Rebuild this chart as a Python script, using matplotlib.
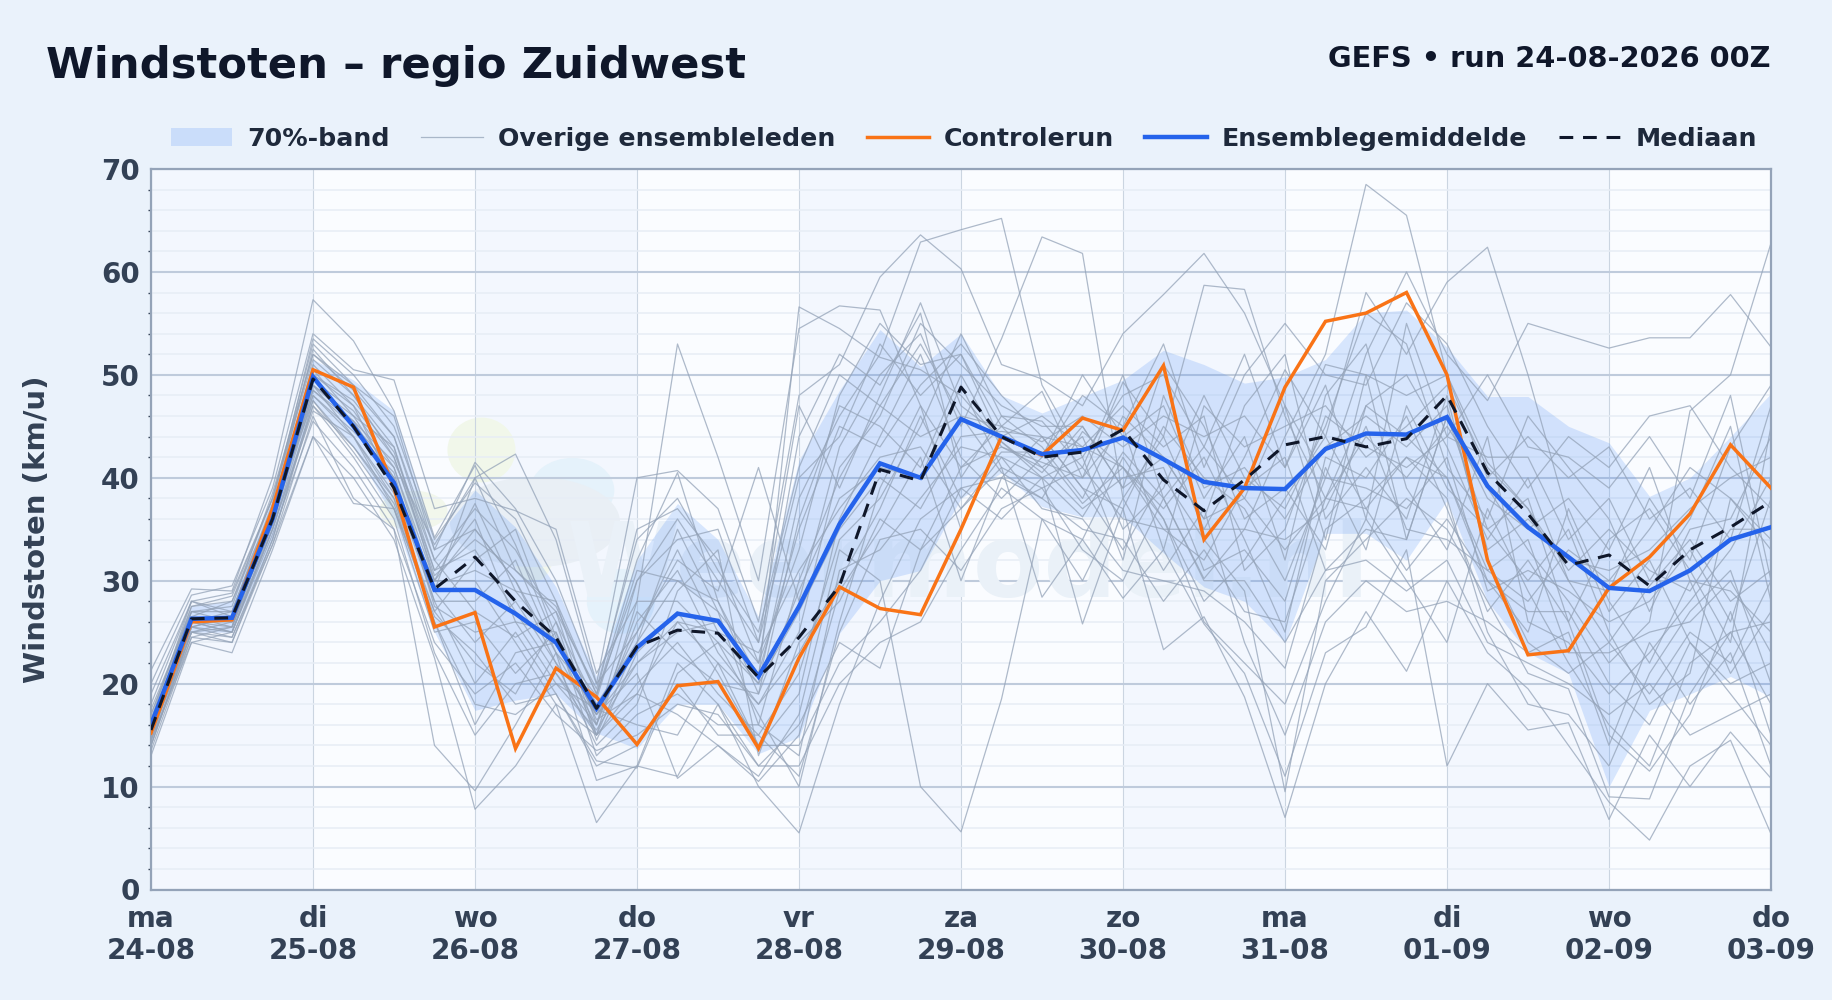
import matplotlib
matplotlib.use('Agg')
import matplotlib.pyplot as plt
import numpy as np
from matplotlib.patches import Ellipse

# tijdstappen van 6 uur, 10 dagen
day_names = ['ma', 'di', 'wo', 'do', 'vr', 'za', 'zo', 'ma', 'di', 'wo', 'do']
day_dates = ['24-08', '25-08', '26-08', '27-08', '28-08', '29-08', '30-08', '31-08', '01-09', '02-09', '03-09']

control = [15.2, 26.0, 26.2, 37.0, 50.5, 48.8, 39.0, 25.5, 26.9, 13.7, 21.5, 18.7, 14.1, 19.8, 20.2, 13.7, 22.5, 29.4, 27.3, 26.7, 35.0, 44.0, 42.2, 45.8, 44.6, 50.9, 34.0, 39.0, 48.8, 55.2, 56.0, 58.0, 50.0, 32.0, 22.8, 23.2, 29.3, 32.3, 36.5, 43.2, 39.0]
mean = [16.0, 26.3, 26.4, 36.0, 49.8, 45.0, 39.5, 29.1, 29.1, 26.8, 24.0, 17.6, 23.5, 26.8, 26.1, 20.7, 27.5, 35.5, 41.4, 40.0, 45.7, 44.0, 42.3, 42.7, 43.9, 41.8, 39.6, 39.0, 38.9, 42.8, 44.3, 44.2, 45.9, 39.2, 35.2, 32.3, 29.3, 29.0, 31.0, 34.0, 35.2]
median = [15.5, 26.3, 26.4, 36.0, 49.6, 45.0, 39.0, 29.2, 32.3, 28.0, 24.5, 17.6, 23.6, 25.2, 24.9, 20.6, 24.5, 29.5, 40.8, 39.7, 48.8, 44.0, 42.0, 42.5, 44.7, 39.8, 36.8, 39.8, 43.2, 44.0, 43.0, 43.8, 48.0, 40.5, 36.5, 31.5, 32.5, 29.5, 33.0, 35.2, 37.7]

band_low = [14.5, 25.0, 25.0, 34.0, 47.5, 43.0, 36.0, 25.0, 17.4, 18.4, 19.0, 15.2, 13.7, 18.0, 18.0, 13.2, 14.8, 24.9, 30.0, 31.0, 38.0, 40.5, 37.2, 36.2, 36.2, 32.7, 29.4, 28.0, 24.0, 34.6, 34.6, 32.0, 37.8, 28.0, 23.0, 21.0, 10.0, 17.4, 19.0, 20.7, 18.7]
band_high = [17.0, 27.5, 28.0, 38.0, 51.5, 49.5, 46.5, 34.0, 38.8, 35.2, 29.4, 20.7, 32.0, 37.5, 34.0, 26.5, 41.7, 48.5, 54.4, 50.8, 54.0, 48.0, 46.3, 47.9, 49.5, 52.4, 51.0, 49.2, 49.8, 51.5, 56.0, 56.3, 52.7, 47.9, 47.9, 45.0, 43.4, 38.2, 40.0, 44.0, 48.2]

m01 = [21.3, 29.2, 29.0, 40.0, 57.3, 53.3, 46.5, 34.2, 41.2, 33.5, 24.0, 18.8, 32.0, 40.5, 28.0, 20.5, 56.6, 54.5, 51.7, 50.5, 48.0, 43.5, 40.0, 36.2, 42.5, 38.0, 30.2, 35.0, 44.0, 52.0, 68.5, 65.5, 50.0, 41.5, 37.0, 30.0, 24.0, 29.5, 34.0, 28.0, 31.0]
m02 = [20.0, 28.6, 29.5, 39.0, 54.0, 50.5, 49.5, 37.0, 38.0, 36.8, 35.0, 21.0, 28.0, 53.0, 42.0, 30.0, 54.5, 56.7, 56.3, 47.0, 41.0, 45.0, 48.4, 40.0, 49.3, 44.0, 35.0, 42.0, 50.5, 44.0, 58.0, 52.0, 59.0, 62.4, 50.0, 36.0, 27.0, 32.0, 24.0, 20.0, 22.0]
m03 = [19.0, 28.0, 28.8, 38.0, 53.0, 49.0, 46.0, 33.0, 41.5, 37.0, 30.0, 20.0, 40.0, 40.7, 37.0, 26.0, 48.0, 51.0, 59.5, 63.6, 60.3, 51.0, 49.6, 47.0, 54.0, 57.8, 61.8, 56.0, 47.0, 40.0, 52.0, 60.0, 52.0, 47.5, 55.0, 53.8, 52.6, 53.6, 53.6, 57.8, 52.7]
m04 = [17.0, 27.5, 28.0, 37.0, 52.5, 48.0, 43.0, 30.0, 35.0, 30.0, 22.0, 17.0, 22.0, 26.0, 25.0, 20.0, 38.0, 46.0, 52.0, 62.9, 64.1, 65.2, 49.0, 42.0, 48.0, 50.0, 43.0, 38.0, 33.0, 38.0, 47.0, 44.0, 40.0, 31.0, 28.0, 33.0, 30.0, 35.0, 41.0, 38.0, 34.0]
m05 = [16.0, 26.5, 26.0, 35.5, 50.0, 45.0, 40.0, 29.0, 40.0, 42.3, 34.0, 20.0, 25.0, 32.0, 29.0, 41.0, 28.0, 43.0, 50.0, 54.0, 45.0, 53.5, 63.4, 61.8, 38.0, 44.0, 58.7, 58.3, 46.0, 38.0, 44.0, 40.0, 45.0, 39.0, 33.0, 28.0, 22.0, 26.0, 46.5, 50.0, 62.8]
m06 = [14.0, 25.0, 24.0, 34.0, 47.0, 42.0, 36.0, 23.0, 15.0, 20.0, 21.0, 15.0, 19.0, 17.0, 14.0, 11.0, 17.0, 33.0, 30.0, 10.0, 5.6, 18.5, 36.0, 34.0, 42.0, 36.0, 26.0, 22.0, 18.0, 28.0, 36.0, 30.0, 24.0, 37.0, 29.0, 22.0, 16.0, 12.0, 22.0, 25.0, 18.0]
m07 = [13.0, 24.0, 23.0, 33.0, 44.0, 40.0, 34.0, 22.5, 7.8, 12.0, 18.0, 6.5, 12.0, 22.0, 18.0, 12.0, 16.0, 24.0, 21.5, 33.0, 37.0, 41.0, 28.4, 34.0, 28.3, 33.0, 25.8, 21.0, 11.0, 23.0, 25.5, 33.0, 12.0, 20.0, 15.5, 16.2, 6.8, 15.0, 10.0, 15.3, 10.8]
m08 = [13.5, 24.5, 24.0, 33.5, 46.0, 38.0, 35.0, 14.0, 9.6, 16.0, 23.0, 10.6, 12.0, 11.0, 18.0, 10.0, 5.5, 18.0, 28.0, 36.0, 39.0, 36.0, 40.0, 25.8, 37.0, 23.3, 26.5, 18.7, 7.0, 20.0, 27.0, 21.2, 30.0, 23.0, 19.5, 14.0, 8.5, 4.8, 12.0, 14.5, 5.4]
m09 = [15.0, 25.5, 25.0, 35.0, 48.0, 44.0, 38.0, 26.0, 16.0, 23.0, 24.0, 17.0, 21.0, 10.8, 14.0, 10.5, 15.0, 29.0, 35.0, 42.0, 30.0, 40.0, 44.0, 39.0, 33.0, 40.0, 34.0, 29.0, 9.5, 30.0, 34.0, 38.0, 35.0, 28.0, 21.0, 19.5, 9.0, 8.8, 19.0, 25.0, 26.0]
m10 = [15.5, 26.0, 26.0, 36.0, 49.0, 46.0, 40.0, 28.0, 20.0, 25.0, 19.0, 12.5, 11.8, 21.0, 24.0, 17.0, 10.0, 26.0, 39.0, 47.0, 35.0, 44.0, 46.0, 43.0, 41.0, 37.0, 42.0, 34.0, 25.0, 42.0, 40.0, 46.0, 37.0, 27.0, 32.0, 26.0, 15.0, 11.5, 17.0, 27.0, 15.0]
m11 = [15.0, 25.0, 24.5, 34.0, 47.5, 43.0, 38.0, 27.0, 22.0, 19.0, 26.0, 14.5, 23.0, 27.0, 21.0, 14.0, 19.0, 36.0, 44.0, 52.0, 42.0, 38.0, 42.0, 50.0, 44.0, 47.0, 38.0, 44.0, 32.0, 48.0, 53.0, 39.0, 33.0, 44.0, 26.0, 24.0, 19.0, 23.0, 28.0, 33.0, 40.0]
m12 = [16.0, 27.0, 27.0, 37.0, 51.0, 47.0, 42.0, 31.0, 33.0, 27.0, 21.0, 16.0, 26.0, 31.0, 23.0, 18.0, 25.0, 41.0, 46.0, 55.0, 51.0, 47.0, 45.0, 45.0, 39.0, 51.0, 45.0, 36.0, 39.0, 33.0, 47.0, 50.0, 43.0, 34.0, 40.0, 30.0, 29.0, 38.0, 32.0, 43.0, 49.0]
m13 = [14.5, 24.5, 25.5, 36.0, 49.5, 46.5, 41.0, 30.0, 30.0, 24.0, 18.0, 15.0, 20.0, 24.0, 19.0, 15.0, 21.0, 34.0, 38.0, 45.0, 54.0, 46.0, 43.0, 38.0, 46.0, 42.0, 36.0, 47.0, 52.0, 36.0, 41.0, 36.0, 48.0, 32.0, 24.0, 21.0, 24.0, 19.0, 25.0, 22.0, 30.0]
m14 = [17.5, 27.0, 27.5, 38.5, 52.0, 49.0, 44.0, 32.0, 37.0, 33.0, 26.0, 18.0, 24.0, 35.0, 27.0, 22.0, 33.0, 48.0, 55.0, 51.0, 52.0, 45.0, 41.0, 44.0, 35.0, 39.0, 48.0, 40.0, 37.0, 45.0, 56.0, 53.0, 41.0, 36.0, 46.0, 41.0, 36.0, 27.0, 35.0, 36.0, 44.0]
m15 = [15.0, 26.0, 25.0, 35.0, 46.5, 44.0, 37.0, 25.0, 26.0, 21.0, 25.0, 13.0, 17.0, 19.0, 16.0, 16.0, 13.0, 31.0, 33.0, 38.0, 43.0, 42.0, 37.0, 36.0, 31.0, 30.0, 29.0, 26.0, 21.5, 35.0, 38.0, 42.0, 38.0, 25.0, 18.0, 17.0, 12.0, 21.0, 27.0, 31.0, 20.0]
m16 = [16.5, 28.0, 27.0, 37.5, 53.5, 50.0, 45.0, 34.0, 39.5, 36.0, 28.0, 19.0, 30.0, 36.0, 30.0, 24.0, 47.0, 39.0, 48.0, 57.0, 47.0, 44.0, 42.0, 48.0, 45.0, 53.0, 41.0, 50.0, 55.0, 50.0, 49.0, 57.0, 53.0, 45.0, 39.0, 44.0, 41.0, 46.0, 47.0, 41.0, 37.0]
m17 = [15.5, 25.5, 26.5, 36.5, 50.0, 47.0, 39.0, 28.0, 28.0, 32.0, 23.0, 16.0, 27.0, 23.0, 20.0, 19.0, 29.0, 38.0, 41.0, 40.0, 49.0, 41.0, 39.0, 41.0, 36.0, 35.0, 32.0, 39.0, 42.0, 31.0, 35.0, 34.0, 46.0, 38.0, 35.0, 38.0, 33.0, 41.0, 30.0, 29.0, 25.0]
m18 = [14.0, 25.0, 26.0, 35.5, 48.5, 45.0, 41.0, 29.0, 24.0, 28.0, 22.0, 14.0, 18.0, 29.0, 33.0, 13.0, 24.0, 28.0, 36.0, 33.0, 41.0, 43.0, 41.0, 37.0, 40.0, 41.0, 31.0, 33.0, 28.0, 41.0, 33.0, 47.0, 39.0, 35.0, 30.0, 35.0, 25.0, 18.0, 21.0, 38.0, 33.0]
m19 = [18.0, 28.0, 26.5, 37.0, 50.5, 46.0, 43.0, 31.0, 36.0, 26.0, 20.0, 15.5, 22.0, 25.0, 26.0, 21.0, 35.0, 45.0, 43.0, 49.0, 53.0, 48.0, 44.0, 43.0, 47.0, 43.0, 46.0, 31.0, 35.0, 46.0, 43.0, 41.0, 44.0, 42.0, 42.0, 34.0, 38.0, 30.0, 36.0, 45.0, 28.0]
m20 = [15.0, 26.5, 25.5, 35.0, 47.0, 43.0, 37.5, 26.0, 18.0, 17.0, 20.0, 17.5, 16.0, 15.0, 22.0, 14.0, 14.0, 22.0, 26.0, 31.0, 39.0, 40.0, 38.0, 35.0, 34.0, 28.0, 33.0, 27.0, 26.0, 38.0, 37.0, 31.0, 36.0, 30.0, 27.0, 27.0, 20.0, 16.0, 24.0, 19.0, 14.0]
m21 = [16.0, 27.5, 28.5, 38.0, 51.5, 48.0, 42.0, 30.5, 34.0, 31.0, 27.0, 19.5, 34.0, 38.0, 31.0, 25.0, 41.0, 50.0, 47.0, 44.0, 46.0, 45.0, 43.5, 46.0, 43.0, 46.0, 44.0, 46.0, 41.0, 51.0, 50.0, 48.0, 50.0, 40.0, 44.0, 40.0, 43.0, 36.0, 39.0, 34.0, 47.0]
m22 = [14.5, 24.0, 25.0, 34.5, 45.5, 41.0, 35.0, 24.0, 19.0, 22.0, 17.0, 13.5, 15.0, 18.0, 17.0, 12.0, 12.0, 20.0, 24.0, 26.0, 33.0, 39.0, 36.0, 30.0, 38.0, 31.0, 37.0, 24.0, 15.0, 26.0, 30.0, 27.0, 28.0, 26.0, 23.0, 25.0, 14.0, 24.0, 18.0, 23.0, 12.0]
m23 = [17.0, 27.0, 26.0, 36.0, 49.0, 45.5, 39.5, 29.5, 31.0, 29.0, 24.0, 17.0, 25.0, 33.0, 25.0, 23.0, 31.0, 37.0, 42.0, 43.0, 37.0, 42.0, 40.0, 42.0, 32.0, 48.0, 39.0, 41.0, 36.0, 43.0, 46.0, 43.0, 47.0, 33.0, 36.0, 32.0, 31.0, 33.0, 37.0, 40.0, 42.0]
m24 = [15.5, 26.0, 27.0, 37.0, 50.0, 47.5, 42.5, 32.0, 27.0, 24.5, 27.0, 15.0, 28.0, 28.0, 24.0, 20.0, 27.0, 35.0, 40.0, 37.0, 44.0, 44.5, 44.0, 39.0, 37.0, 45.0, 40.0, 37.0, 30.0, 40.0, 39.0, 37.0, 42.0, 29.0, 31.0, 29.0, 26.0, 28.0, 33.0, 26.0, 38.0]
m25 = [16.5, 26.5, 28.0, 38.0, 52.0, 48.5, 44.0, 33.0, 35.0, 30.0, 23.0, 18.5, 31.0, 30.0, 28.0, 19.0, 36.0, 47.0, 45.0, 41.0, 50.0, 43.0, 41.5, 40.0, 45.0, 33.0, 47.0, 43.0, 45.0, 47.0, 42.0, 45.0, 49.0, 41.0, 37.0, 31.0, 35.0, 31.0, 29.0, 35.0, 35.0]
m26 = [14.0, 25.5, 24.5, 33.5, 44.0, 37.5, 37.0, 26.5, 23.0, 18.0, 19.0, 12.0, 14.0, 20.0, 15.0, 15.0, 11.0, 25.0, 34.0, 35.0, 31.0, 37.0, 39.0, 33.0, 30.0, 38.0, 30.0, 30.0, 24.0, 31.0, 32.0, 29.0, 32.0, 24.0, 22.0, 20.0, 17.0, 20.0, 15.0, 17.0, 19.0]
m27 = [15.0, 25.0, 25.5, 36.5, 48.0, 44.5, 40.5, 27.5, 25.0, 26.0, 25.0, 16.5, 19.0, 26.0, 22.0, 18.0, 23.0, 30.0, 37.0, 46.0, 38.0, 42.5, 42.5, 37.5, 41.0, 35.0, 35.0, 35.0, 34.0, 37.0, 45.0, 35.0, 34.0, 31.0, 34.0, 23.0, 23.0, 25.0, 26.0, 30.0, 23.0]
m28 = [15.0, 25.5, 26.5, 36.0, 48.5, 45.5, 41.5, 33.5, 40.0, 31.0, 27.5, 19.0, 35.0, 37.0, 32.0, 22.0, 44.0, 52.0, 49.0, 56.0, 40.0, 46.0, 45.5, 41.0, 50.0, 38.0, 43.0, 52.0, 41.0, 49.0, 36.0, 55.0, 44.0, 50.0, 43.0, 42.0, 39.0, 44.0, 38.0, 48.0, 30.0]
m29 = [14.5, 26.0, 25.0, 35.5, 49.0, 44.0, 38.5, 30.0, 37.5, 29.0, 28.0, 16.0, 30.0, 34.0, 35.0, 24.0, 40.0, 44.0, 53.0, 48.0, 52.0, 43.5, 40.5, 45.0, 39.0, 42.0, 36.0, 38.0, 47.0, 34.0, 50.0, 34.0, 46.0, 35.0, 38.0, 26.0, 34.0, 37.0, 31.0, 24.0, 45.0]
m30 = [16.0, 26.0, 25.5, 36.5, 47.5, 42.5, 37.0, 27.0, 32.0, 35.0, 24.5, 15.0, 24.0, 30.0, 27.0, 16.0, 30.0, 40.0, 47.0, 53.0, 46.0, 40.5, 38.0, 44.5, 41.0, 36.0, 28.0, 32.0, 38.0, 44.0, 37.0, 42.0, 40.0, 30.0, 25.0, 37.0, 28.0, 22.0, 30.0, 21.0, 27.0]
members = [m01, m02, m03, m04, m05, m06, m07, m08, m09, m10, m11, m12, m13, m14, m15,
           m16, m17, m18, m19, m20, m21, m22, m23, m24, m25, m26, m27, m28, m29, m30]

BG = '#eaf2fb'
INK = '#0f172a'
SLATE = '#334155'

plt.rcParams['font.family'] = 'DejaVu Sans'
plt.rcParams['font.weight'] = 'bold'
plt.rcParams['axes.labelweight'] = 'bold'

hours = np.arange(len(mean)) * 6
day_ticks = np.arange(len(day_names)) * 24

fig = plt.figure(figsize=(9.16, 5), dpi=200, facecolor=BG)
ax = fig.add_axes([151 / 1832, 1 - 889.5 / 1000, (1771 - 151) / 1832, (889.5 - 169) / 1000])
ax.set_facecolor('#fafcff')
ax.set_xlim(day_ticks[0], day_ticks[-1])
ax.set_ylim(0, 70)

# dagen om en om licht getint
for i in range(0, len(day_ticks) - 1, 2):
    ax.axvspan(day_ticks[i], day_ticks[i + 1], color='#f3f7fe', lw=0, zorder=0)

# vage achtergrond van het watermerk
blobs = [(0.204, 0.61, 0.042, 0.09, '#f1f7ea'), (0.162, 0.526, 0.042, 0.055, '#f2f7ec'),
         (0.236, 0.467, 0.025, 0.08, '#f2f7ec'), (0.26, 0.554, 0.052, 0.09, '#e5f2fb'),
         (0.237, 0.51, 0.105, 0.125, '#e9eff5'), (0.29, 0.40, 0.042, 0.09, '#e5f2fb')]
for bx, by, bw, bh, bc in blobs:
    ax.add_patch(Ellipse((bx, by), bw, bh, transform=ax.transAxes, color=bc, lw=0, zorder=0.5))
ax.text(0.505, 0.445, 'Weermodel.nl', transform=ax.transAxes, ha='center', va='center',
        fontsize=37, color='#eaf1f8', zorder=0.6)

ax.set_yticks(np.arange(0, 71, 10))
ax.set_yticks(np.arange(0, 71, 2), minor=True)
ax.set_xticks(day_ticks)
ax.set_xticklabels([f'{n}\n{d}' for n, d in zip(day_names, day_dates)])
ax.grid(True, which='minor', axis='y', color='#e7edf5', lw=0.55, zorder=1)
ax.grid(True, which='major', axis='y', color='#bfcbdc', lw=0.75, zorder=1.1)
ax.grid(True, which='major', axis='x', color='#cbd5e1', lw=0.4, zorder=1.1)
ax.set_axisbelow(True)

ax.fill_between(hours, band_low, band_high, color='#3b82f6', alpha=0.18, lw=0, zorder=2, label='70%-band')
for k, m in enumerate(members):
    ax.plot(hours, m, color='#94a3b8', lw=0.45, alpha=0.75, zorder=3,
            label='Overige ensembleleden' if k == 0 else None)
ax.plot(hours, control, color='#f97316', lw=1.25, zorder=5, label='Controlerun', solid_joinstyle='miter')
ax.plot(hours, mean, color='#2563eb', lw=1.6, zorder=6, label='Ensemblegemiddelde', solid_joinstyle='miter')
ax.plot(hours, median, color=INK, lw=1.1, ls=(0, (4.5, 3.2)), zorder=7, label='Mediaan')

for s in ax.spines.values():
    s.set_color('#94a3b8')
    s.set_linewidth(0.8)
ax.tick_params(axis='y', which='major', length=0, labelsize=10, labelcolor=SLATE, pad=4)
ax.tick_params(axis='y', which='minor', length=1.2, width=0.5, color=SLATE)
ax.tick_params(axis='x', length=0, labelsize=10, labelcolor=SLATE, pad=5.5)
ax.set_ylabel('Windstoten (km/u)', fontsize=10.5, color=SLATE, labelpad=18)

fig.text(46 / 1832, 1 - 66 / 1000, 'Windstoten – regio Zuidwest', fontsize=15.6, color=INK, va='center', ha='left')
fig.text(1771 / 1832, 1 - 59 / 1000, 'GEFS • run 24-08-2026 00Z', fontsize=10.4, color=INK, va='center', ha='right')

ax.legend(loc='lower right', bbox_to_anchor=(1757 / 1832, 1 - 151 / 1000), bbox_transform=fig.transFigure,
          ncol=5, frameon=False, fontsize=9.1, labelcolor='#1e293b', columnspacing=1.25, handlelength=2.45,
          handletextpad=0.58, borderaxespad=0, borderpad=0)

fig.savefig('out.png', dpi=200, facecolor=BG)
